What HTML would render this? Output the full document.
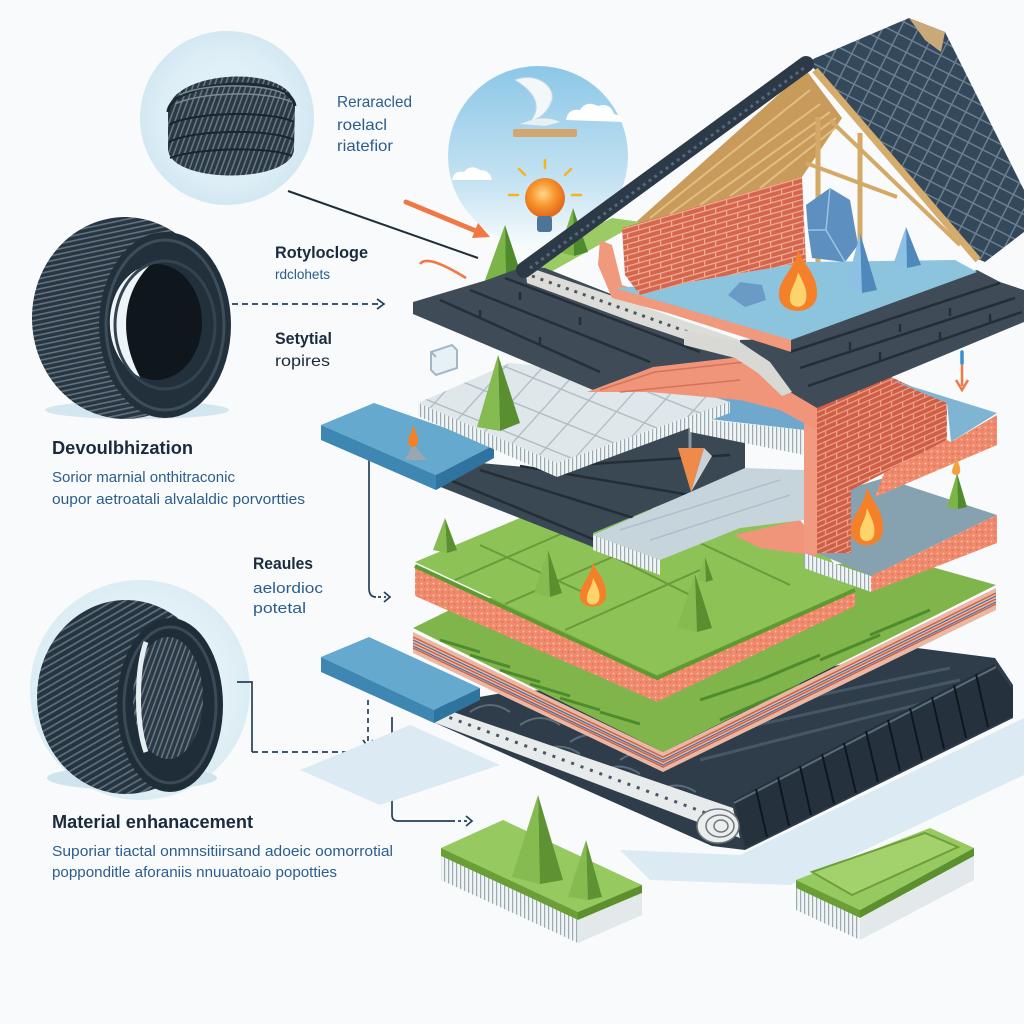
<!DOCTYPE html>
<html><head><meta charset="utf-8">
<style>
html,body{margin:0;padding:0;background:#f8fafb;}
svg{display:block}
text{font-family:"Liberation Sans",Arial,sans-serif}
.h{font-weight:bold;fill:#1b2b3e}
.b{fill:#2c5d8c}
</style></head><body>
<svg width="1024" height="1024" viewBox="0 0 1024 1024" xmlns="http://www.w3.org/2000/svg">
<defs>
<radialGradient id="halo" cx="50%" cy="50%" r="50%">
 <stop offset="0" stop-color="#eaf5fa"/><stop offset="0.75" stop-color="#ddeef6"/><stop offset="1" stop-color="#d3e8f2"/>
</radialGradient>
<linearGradient id="sky" x1="0" y1="0" x2="0" y2="1">
 <stop offset="0" stop-color="#8cc7e7"/><stop offset="0.65" stop-color="#c5e3f2"/><stop offset="1" stop-color="#f6fbfd"/>
</linearGradient>
<radialGradient id="bulb" cx="45%" cy="40%" r="60%">
 <stop offset="0" stop-color="#ffd88a"/><stop offset="0.5" stop-color="#f8962e"/><stop offset="1" stop-color="#e0661a"/>
</radialGradient>
<pattern id="tread" width="5" height="5" patternUnits="userSpaceOnUse" patternTransform="rotate(78)">
 <rect width="5" height="5" fill="#283642"/><rect width="1.6" height="5" fill="#62737f"/>
</pattern>
<pattern id="tread2" width="6" height="6" patternUnits="userSpaceOnUse" patternTransform="rotate(60)">
 <rect width="6" height="6" fill="#263440"/><rect width="1.8" height="6" fill="#5c6e7b"/>
</pattern>
<pattern id="tread3" width="5" height="5" patternUnits="userSpaceOnUse" patternTransform="rotate(20)">
 <rect width="5" height="5" fill="#2b3945"/><rect width="1.5" height="5" fill="#687985"/>
</pattern>
<pattern id="brick" width="22" height="11" patternUnits="userSpaceOnUse" patternTransform="skewY(-16)">
 <rect width="22" height="11" fill="#d4664e"/>
 <path d="M0 0.6H22M0 6.1H22M0.6 0V6M11.6 6V11" stroke="#f1ae95" stroke-width="1.2"/>
</pattern>
<pattern id="brick2" width="22" height="11" patternUnits="userSpaceOnUse" patternTransform="skewY(-24)">
 <rect width="22" height="11" fill="#cf5e46"/>
 <path d="M0 0.6H22M0 6.1H22M0.6 0V6M11.6 6V11" stroke="#eea58c" stroke-width="1.2"/>
</pattern>
<pattern id="tiles" width="16" height="13" patternUnits="userSpaceOnUse" patternTransform="rotate(27)">
 <rect width="16" height="13" fill="#34485b"/><path d="M0 12.3H16M15.3 0V13" stroke="#6b7f90" stroke-width="1.5"/>
</pattern>
<pattern id="grid" width="30" height="30" patternUnits="userSpaceOnUse" patternTransform="rotate(22) skewX(-20)">
 <rect width="30" height="30" fill="#dfe7eb"/><path d="M0 0.7H30M0.7 0V30" stroke="#aebdc5" stroke-width="1.4"/>
</pattern>
<pattern id="vstripe" width="4" height="10" patternUnits="userSpaceOnUse">
 <rect width="4" height="10" fill="#f1f4f5"/><rect width="1.2" height="10" fill="#9aaab3"/>
</pattern>
<pattern id="speck" width="6" height="6" patternUnits="userSpaceOnUse">
 <rect width="6" height="6" fill="#ef8a6d"/><circle cx="1.5" cy="1.5" r="0.9" fill="#f9c2b1"/><circle cx="4.5" cy="4" r="0.8" fill="#d96a4f"/>
</pattern>
</defs>

<rect width="1024" height="1024" fill="#f8fafb"/>

<!-- ===== LEFT PANEL ===== -->
<circle cx="227" cy="118" r="87" fill="url(#halo)"/>
<path d="M168,112 C168,70 292,62 295,106 L294,150 C290,184 172,184 168,150 Z" fill="url(#tread3)"/>
<path d="M168,112 C170,80 290,72 295,106" fill="none" stroke="#1d2831" stroke-width="3"/>
<path d="M169,125 C190,112 270,110 294,122 M169,142 C190,130 270,128 294,140 M170,158 C195,148 270,146 292,156" fill="none" stroke="#1a242c" stroke-width="2"/>
<path d="M180,95 C200,84 260,82 285,94 M175,104 C200,92 265,90 292,102" fill="none" stroke="#7a8a95" stroke-width="1.5"/>

<ellipse cx="137" cy="410" rx="92" ry="9" fill="#d3e7f0"/>
<ellipse cx="125" cy="318" rx="93" ry="101" fill="url(#tread)"/>
<ellipse cx="165" cy="325" rx="66" ry="93" fill="#22303b"/>
<ellipse cx="165" cy="325" rx="59" ry="85" fill="none" stroke="#3d4d59" stroke-width="3"/>
<ellipse cx="156" cy="322" rx="46" ry="58" fill="#0f171d"/>
<path d="M150,265 A46,58 0 0 0 140,377 C120,340 120,295 150,265 Z" fill="#eef5f8"/>
<ellipse cx="165" cy="325" rx="50" ry="64" fill="none" stroke="#33434f" stroke-width="3"/>

<circle cx="140" cy="690" r="110" fill="url(#halo)" opacity="0.75"/>
<ellipse cx="132" cy="778" rx="85" ry="12" fill="#cfe4ee"/>
<ellipse cx="126" cy="697" rx="89" ry="97" fill="url(#tread2)"/>
<ellipse cx="170" cy="705" rx="53" ry="87" fill="#1f2d38"/>
<ellipse cx="170" cy="705" rx="46" ry="78" fill="none" stroke="#3a4a56" stroke-width="3"/>
<ellipse cx="168" cy="698" rx="35" ry="61" fill="url(#tread3)"/>
<path d="M146,642 C136,670 136,725 146,752" stroke="#e6eef2" stroke-width="5" fill="none"/>

<!-- texts -->
<text x="337" y="107" class="b" font-size="16" textLength="75" lengthAdjust="spacingAndGlyphs">Reraracled</text>
<text x="337" y="130" class="b" font-size="16" textLength="50" lengthAdjust="spacingAndGlyphs">roelacl</text>
<text x="337" y="151" class="b" font-size="16" textLength="56" lengthAdjust="spacingAndGlyphs">riatefior</text>
<text x="275" y="258" class="h" font-size="17" textLength="93" lengthAdjust="spacingAndGlyphs">Rotylocloge</text>
<text x="275" y="279" class="b" font-size="14" textLength="55" lengthAdjust="spacingAndGlyphs">rdclohets</text>
<text x="275" y="344" class="h" font-size="17" textLength="57" lengthAdjust="spacingAndGlyphs">Setytial</text>
<text x="275" y="366" class="h" font-size="16" textLength="55" lengthAdjust="spacingAndGlyphs" style="font-weight:normal">ropires</text>
<text x="52" y="454" class="h" font-size="18" textLength="141" lengthAdjust="spacingAndGlyphs">Devoulbhization</text>
<text x="52" y="482" class="b" font-size="15" textLength="183" lengthAdjust="spacingAndGlyphs">Sorior marnial onthitraconic</text>
<text x="52" y="504" class="b" font-size="15" textLength="253" lengthAdjust="spacingAndGlyphs">oupor aetroatali alvalaldic porvortties</text>
<text x="253" y="569" class="h" font-size="17" textLength="60" lengthAdjust="spacingAndGlyphs">Reaules</text>
<text x="253" y="593" class="b" font-size="15" textLength="70" lengthAdjust="spacingAndGlyphs">aelordioc</text>
<text x="253" y="613" class="b" font-size="15" textLength="53" lengthAdjust="spacingAndGlyphs">potetal</text>
<text x="52" y="828" class="h" font-size="18" textLength="201" lengthAdjust="spacingAndGlyphs">Material enhanacement</text>
<text x="52" y="856" class="b" font-size="15" textLength="341" lengthAdjust="spacingAndGlyphs">Suporiar tiactal onmnsitiirsand adoeic oomorrotial</text>
<text x="52" y="877" class="b" font-size="15" textLength="285" lengthAdjust="spacingAndGlyphs">popponditle aforaniis nnuuatoaio popotties</text>

<!-- connectors -->
<g fill="none" stroke="#24405a" stroke-width="1.7">
 <path d="M288,191 L478,258" stroke="#1e2d3a" stroke-width="2"/>
 <path d="M232,304H380" stroke-dasharray="6,4"/>
 <path d="M377,299L384,304L377,309"/>
 <path d="M369,447V588Q369,597 376,597"/>
 <path d="M378,597H386" stroke-dasharray="3,3"/>
 <path d="M384,592L390,597L384,602"/>
 <path d="M237,682H252V752"/>
 <path d="M252,752H362" stroke-dasharray="6,4"/>
 <path d="M368,700V745" stroke-dasharray="5,4"/>
 <path d="M363,740L368,747L373,740"/>
 <path d="M392,717V815Q392,821 398,821H455"/>
 <path d="M458,821H468" stroke-dasharray="3,3"/>
 <path d="M466,816L472,821L466,826"/>
</g>

<!-- ===== MAIN ILLUSTRATION ===== -->
<circle cx="538" cy="156" r="90" fill="url(#sky)"/>
<path d="M566,120 q2,-12 14,-10 q6,-10 18,-4 q12,-4 16,8 q10,2 10,8 Z" fill="#ffffff"/>
<path d="M452,180 q2,-10 12,-8 q6,-8 16,-2 q10,0 12,10 Z" fill="#ffffff"/>
<path d="M515,80 C535,72 555,85 552,100 C548,112 540,118 530,122 C540,110 540,95 515,80 Z" fill="#f2f7fa" stroke="#c9dbe5"/>
<path d="M520,124 C535,118 548,116 560,122 L545,126 Z" fill="#e8f0f4"/>
<rect x="513" y="129" width="64" height="8" rx="2" fill="#d3a66e"/>

<!-- right roof tiles -->
<polygon points="806,62 909,18 945,32 1024,190 1024,232 985,262 975,258 818,72" fill="url(#tiles)"/>
<polygon points="909,18 945,32 941,52 925,40" fill="#c9a87a"/>
<!-- wood underside -->
<polygon points="625,232 806,70 842,118 802,177" fill="#c99b5a"/>
<path d="M650,218 L810,90 M670,214 L820,104 M700,205 L830,112 M730,196 L836,118 M760,188 L838,126" stroke="#e3be84" stroke-width="2"/>
<path d="M818,117V262 M860,133V252" stroke="#d4a867" stroke-width="5"/>
<path d="M806,163L897,197 M830,120 L960,245" stroke="#d4a867" stroke-width="4"/>
<line x1="815" y1="70" x2="978" y2="260" stroke="#d6ac6c" stroke-width="7"/>

<!-- green hill & cones & bulb -->
<polygon points="495,282 545,250 612,218 640,222 540,278" fill="#9acb65"/>
<polygon points="505,225 484,283 506,289" fill="#7cb547"/>
<polygon points="505,225 506,289 524,283" fill="#4f8a2c"/>
<polygon points="573,208 559,252 574,256" fill="#7cb547"/>
<polygon points="573,208 574,256 588,252" fill="#4f8a2c"/>
<g stroke="#f5b41e" stroke-width="2.5" stroke-linecap="round">
 <line x1="545" y1="168" x2="545" y2="160"/><line x1="525" y1="175" x2="519" y2="169"/><line x1="565" y1="175" x2="571" y2="169"/>
 <line x1="518" y1="195" x2="509" y2="195"/><line x1="572" y1="195" x2="581" y2="195"/>
</g>
<circle cx="545" cy="198" r="20" fill="url(#bulb)"/>
<rect x="537" y="216" width="15" height="16" rx="3" fill="#4f7596"/>
<line x1="406" y1="202" x2="476" y2="231" stroke="#f07845" stroke-width="5" stroke-linecap="round"/>
<polygon points="490,237 472,238 478,223" fill="#f07845"/>
<path d="M420,264 C425,257 440,262 466,278" stroke="#f07845" stroke-width="2.5" fill="none"/>

<!-- shadows -->
<polygon points="300,770 410,725 500,765 380,805" fill="#dcebf3"/>
<polygon points="620,850 740,855 1024,718 1024,775 790,885 650,880" fill="#dbeaf3"/>

<!-- roll -->
<polygon points="433,705 520,690 700,695 917,648 995,658 1013,685 1013,718 745,850 712,846 433,722" fill="#2f3d4a"/>
<path d="M470,712 q20,-14 40,0 M520,725 q20,-14 40,0 M570,742 q20,-14 40,0 M620,760 q20,-14 40,0 M480,735 q20,-12 40,2 M540,752 q20,-12 40,2 M600,772 q20,-12 40,2 M660,790 q18,-10 36,2" stroke="#5a6b79" stroke-width="2" fill="none"/>
<path d="M700,720 L950,668 M690,740 L960,680 M700,760 L975,690" stroke="#455664" stroke-width="3"/>
<polygon points="734,800 994,664 1013,690 1013,716 745,848" fill="#25323e"/>
<line x1="734" y1="803" x2="996" y2="667" stroke="#5b6c7a" stroke-width="2"/>
<g stroke="#0f171e" stroke-width="2">
 <line x1="756" y1="789" x2="767" y2="837"/><line x1="778" y1="777" x2="789" y2="826"/><line x1="800" y1="766" x2="811" y2="815"/>
 <line x1="822" y1="754" x2="834" y2="804"/><line x1="844" y1="743" x2="856" y2="793"/><line x1="866" y1="731" x2="878" y2="782"/>
 <line x1="888" y1="720" x2="900" y2="771"/><line x1="910" y1="708" x2="922" y2="760"/><line x1="932" y1="697" x2="944" y2="749"/>
 <line x1="954" y1="685" x2="966" y2="738"/><line x1="976" y1="674" x2="988" y2="727"/>
</g>
<polygon points="433,705 733,808 740,838 433,722" fill="#e8ebeb"/>
<line x1="440" y1="714" x2="730" y2="822" stroke="#4d5660" stroke-width="3" stroke-dasharray="3,7"/>
<ellipse cx="718" cy="826" rx="21" ry="17" fill="#eceeed" stroke="#6e7780" stroke-width="1.5"/>
<ellipse cx="720" cy="826" rx="14" ry="11" fill="none" stroke="#6e7780" stroke-width="1.5"/>
<ellipse cx="721" cy="826" rx="7" ry="6" fill="none" stroke="#6e7780" stroke-width="1.5"/>

<!-- green ribbed layer -->
<polygon points="413,628 470,600 900,558 996,585 663,752" fill="#7fb54a"/>
<path d="M440,640 l40,12 M470,655 l40,12 M500,670 l40,12 M530,684 l40,12 M560,698 l40,12 M600,712 l40,12 M700,700 l60,-20 M760,680 l60,-25 M820,660 l60,-25 M870,635 l60,-25 M720,720 l80,-35 M800,690 l80,-35" stroke="#4f8a2e" stroke-width="3"/>
<polygon points="413,632 663,752 663,772 413,653" fill="#e9b7a4"/>
<polygon points="663,752 996,588 996,610 663,772" fill="#e9b7a4"/>
<path d="M413,637 L663,757 L996,593 M413,643 L663,762 L996,599 M413,648 L663,767 L996,604" fill="none" stroke="#c9654a" stroke-width="1.5"/>
<path d="M413,640 L663,760 L996,596 M413,646 L663,765 L996,602" fill="none" stroke="#4a6fa0" stroke-width="1.2"/>

<!-- tab 2 -->
<polygon points="321,657 369,637 480,688 434,710" fill="#66a9cf"/>
<polygon points="321,657 434,710 434,723 321,672" fill="#3f87b3"/>
<polygon points="434,710 480,688 480,700 434,723" fill="#2f749f"/>

<!-- green/pink block -->
<polygon points="415,562 520,518 780,500 855,588 657,675" fill="#8dc257"/>
<path d="M455,580 L570,530 M505,604 L640,545 M565,630 L700,570 M480,545 L600,600 M560,530 L700,600 M640,515 L790,585" stroke="#6a9a3a" stroke-width="2"/>
<polygon points="415,566 657,678 657,702 415,596" fill="url(#speck)"/>
<polygon points="657,678 855,590 855,606 657,702" fill="url(#speck)"/>
<path d="M415,566 L657,678 L855,590" fill="none" stroke="#5f9a30" stroke-width="4"/>
<polygon points="445,518 433,550 447,553" fill="#86bb52"/><polygon points="445,518 447,553 457,550" fill="#5a8f30"/>
<polygon points="548,550 534,593 550,597" fill="#86bb52"/><polygon points="548,550 550,597 562,593" fill="#5a8f30"/>
<polygon points="695,574 677,628 697,632" fill="#86bb52"/><polygon points="695,574 697,632 712,628" fill="#5a8f30"/>
<polygon points="705,557 697,580 706,582" fill="#86bb52"/><polygon points="705,557 706,582 713,580" fill="#5a8f30"/>
<path d="M593,562 C597,574 607,580 606,596 C605,610 581,610 580,597 C579,584 590,580 593,562 Z" fill="#f4802a"/>
<path d="M593,578 C597,586 601,592 599,600 C597,606 588,606 587,600 C586,592 592,588 593,578 Z" fill="#ffd36b"/>

<!-- lower brick block & slab B -->
<polygon points="734,535 800,520 817,540 817,556 760,548" fill="#f0957a"/>
<polygon points="804,553 871,576 871,592 804,568" fill="url(#vstripe)"/>
<polygon points="817,553 851,553 851,488 884,478 997,515 871,576" fill="#86a2b1"/>
<polygon points="871,576 997,515 997,543 871,592" fill="url(#speck)"/>
<polygon points="817,407 891,377 947,403 947,440 884,473 851,490 851,553 817,553" fill="url(#brick2)"/>
<polygon points="804,410 817,407 817,553 804,553" fill="#f29a80"/>
<polygon points="891,380 997,413 951,442 947,403" fill="#7fb4d2"/>
<polygon points="947,440 951,442 997,415 997,445 875,497 884,473" fill="url(#speck)"/>
<path d="M867,487 C872,502 884,510 883,530 C882,550 852,550 851,532 C850,515 864,508 867,487 Z" fill="#f4802a"/>
<path d="M867,508 C871,518 876,525 874,535 C872,543 861,543 860,535 C859,525 866,520 867,508 Z" fill="#ffd36b"/>
<polygon points="957,473 947,507 958,509" fill="#7cb547"/><polygon points="957,473 958,509 967,507" fill="#4f8a2c"/>
<path d="M956,458 C959,464 961,468 960,472 C959,476 953,476 952,472 C952,467 955,465 956,458 Z" fill="#f4a040"/>

<!-- dark middle layer -->
<polygon points="433,476 470,462 557,470 700,420 745,430 745,470 593,533 593,547 433,484" fill="#3a4854"/>
<path d="M445,478 L595,540 M480,470 L640,520 M520,466 L690,495 M560,466 L730,455" stroke="#222d36" stroke-width="2.5"/>
<polygon points="593,535 745,468 804,470 804,520 740,528 660,560" fill="#c6d4dc"/>
<path d="M620,530 L780,480 M650,540 L790,495" stroke="#aebfc9" stroke-width="1.5"/>
<polygon points="593,535 660,560 660,575 593,550" fill="url(#vstripe)"/>
<line x1="690" y1="428" x2="690" y2="450" stroke="#8a98a2" stroke-width="3"/>
<polygon points="678,448 704,448 691,492" fill="#f08a4a"/>
<polygon points="691,492 704,448 712,456" fill="#c9d2d8"/>

<!-- blue second floor -->
<polygon points="684,400 745,392 804,410 804,430 700,418" fill="#6fa8cc"/>
<polygon points="690,418 804,430 804,455 690,432" fill="url(#vstripe)"/>

<!-- tab 1 -->
<polygon points="321,425 374,403 494,445 436,475" fill="#66a9cf"/>
<polygon points="321,425 436,475 436,490 321,440" fill="#3f87b3"/>
<polygon points="436,475 494,445 494,458 436,490" fill="#2f749f"/>
<polygon points="413,444 405,460 427,460" fill="#9aa7b0"/>
<path d="M413,425 C416,432 419,438 418,443 C417,448 409,448 408,443 C408,437 412,433 413,425 Z" fill="#f4802a"/>

<!-- white tile slab -->
<polygon points="418,403 510,363 640,375 730,402 557,463" fill="url(#grid)"/>
<polygon points="418,403 557,463 557,477 418,416" fill="url(#vstripe)"/>
<polygon points="557,463 730,402 730,413 557,477" fill="url(#vstripe)"/>
<polygon points="498,355 477,427 500,431" fill="#86bb52"/><polygon points="498,355 500,431 520,423" fill="#5a8f30"/>
<path d="M431,352 L452,345 L457,350 L457,368 L436,375 L431,370 Z" fill="#e6f0f5" stroke="#9fb8c8" stroke-width="2"/>
<line x1="431" y1="352" x2="436" y2="357" stroke="#9fb8c8" stroke-width="2"/>

<!-- top dark shingles left wing -->
<polygon points="413,302 487,280 525,266 545,268 740,345 740,365 653,368 593,390 413,314" fill="#3f4c58"/>
<path d="M440,300 L600,372 M470,290 L650,362 M505,278 L700,352 M480,318 l0,-8 M540,345 l0,-8 M520,300 l0,-8 M580,325 l0,-8" stroke="#252f38" stroke-width="2.5"/>
<polygon points="587,392 653,367 740,357 790,385 817,407 817,430 780,410 740,400 650,392" fill="#f0957a"/>
<path d="M600,390 L655,372 L745,362 M620,392 L740,380" stroke="#d4735a" stroke-width="1.5" fill="none"/>
<polygon points="525,266 633,303 740,340 740,358 633,322 527,283" fill="#dcdcd8"/>
<line x1="532" y1="276" x2="738" y2="350" stroke="#4d5660" stroke-width="3" stroke-dasharray="3,6"/>
<polygon points="740,340 791,338 977,270 1000,282 1024,290 1024,322 817,408 790,392 760,368 740,358" fill="#3f4c58"/>
<path d="M790,352 L1000,283 M800,368 L1015,298 M808,386 L1022,312 M850,350 l0,-8 M900,332 l0,-8 M950,316 l0,-8 M880,360 l0,-8 M940,340 l0,-8 M990,322 l0,-8" stroke="#242e37" stroke-width="2.5"/>
<polygon points="684,330 740,342 770,362 792,392 782,396 758,373 735,358 684,345" fill="#d8d8d4"/>
<polygon points="600,240 612,245 622,285 791,338 791,352 668,313 612,298 598,265" fill="#f0997d"/>
<polygon points="615,288 791,340 977,272 955,260 806,262 690,282" fill="#8cc3dd"/>
<polygon points="622,228 802,177 806,262 690,282 640,295 625,275" fill="url(#brick)"/>
<line x1="524" y1="270" x2="806" y2="64" stroke="#2c3946" stroke-width="16" stroke-linecap="round"/>
<line x1="530" y1="268" x2="804" y2="68" stroke="#55677a" stroke-width="3" stroke-dasharray="3,4"/>
<polygon points="806,205 830,188 850,200 858,245 845,262 812,258 808,230" fill="#5d8fc0"/>
<path d="M830,188 L826,230 L845,262 M808,230 L826,230" stroke="#9cc3e3" stroke-width="1.5" fill="none"/>
<polygon points="860,233 846,288 862,293" fill="#8cc0e4"/><polygon points="860,233 862,293 877,290" fill="#4f88bb"/>
<polygon points="906,227 893,265 907,268" fill="#8cc0e4"/><polygon points="906,227 907,268 921,265" fill="#4f88bb"/>
<polygon points="728,295 740,282 762,285 766,300 745,307" fill="#6a9ac6"/>
<path d="M798,250 C804,265 818,275 817,295 C816,316 780,316 779,296 C778,278 795,270 798,250 Z" fill="#f4802a"/>
<path d="M798,272 C803,282 808,290 806,300 C804,309 791,309 790,300 C789,290 796,284 798,272 Z" fill="#ffd36b"/>
<line x1="962" y1="362" x2="962" y2="386" stroke="#f07845" stroke-width="2.5"/>
<line x1="962" y1="352" x2="962" y2="363" stroke="#3b8fd0" stroke-width="3.5" stroke-linecap="round"/>
<path d="M956,380 L962,390 L968,380" stroke="#f07845" stroke-width="2.5" fill="none"/>

<!-- bottom blocks -->
<polygon points="441,848 503,820 642,885 578,912" fill="#96c95f"/>
<polygon points="441,848 578,912 578,920 441,856" fill="#6a9f38"/>
<polygon points="578,912 642,885 642,893 578,920" fill="#5c8f2e"/>
<polygon points="441,856 578,920 578,943 441,880" fill="url(#vstripe)"/>
<polygon points="578,920 642,893 642,915 578,943" fill="#e3e8ea"/>
<polygon points="538,795 512,877 540,884" fill="#86bb52"/><polygon points="538,795 540,884 563,880" fill="#5e9233"/>
<polygon points="586,840 568,897 588,900" fill="#86bb52"/><polygon points="586,840 588,900 602,897" fill="#5e9233"/>

<polygon points="796,880 930,828 974,848 860,910" fill="#96c95f"/>
<polygon points="812,872 925,833 958,847 852,895" fill="#a3d16c" stroke="#6f9f3d" stroke-width="2"/>
<polygon points="796,880 860,910 860,918 796,888" fill="#6a9f38"/>
<polygon points="860,910 974,848 974,856 860,918" fill="#5c8f2e"/>
<polygon points="796,888 860,918 860,940 796,910" fill="url(#vstripe)"/>
<polygon points="860,918 974,856 974,880 860,940" fill="#e3e8ea"/>
</svg>
</body></html>
